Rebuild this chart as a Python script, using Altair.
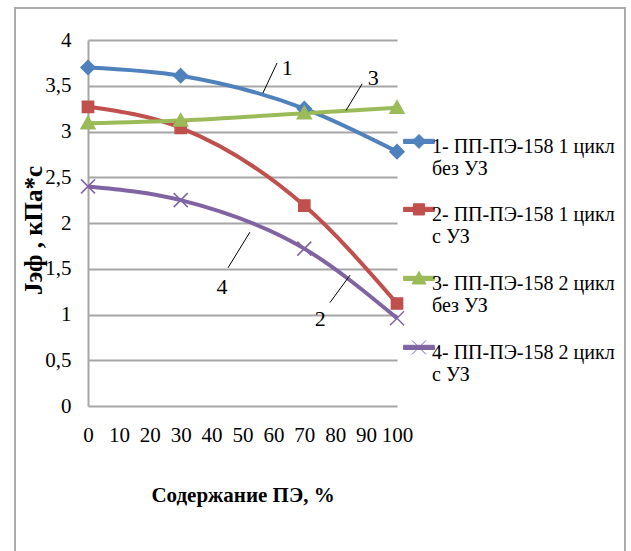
import altair as alt
import pandas as pd

# ---- data ----
pe_content = [0, 30, 70, 100]
series_names = [
    "1- ПП-ПЭ-158 1 цикл|без УЗ",
    "2- ПП-ПЭ-158 1 цикл|с УЗ",
    "3- ПП-ПЭ-158 2 цикл|без УЗ",
    "4- ПП-ПЭ-158 2 цикл|с УЗ",
]
s1 = [3.70, 3.61, 3.25, 2.78]
s2 = [3.27, 3.04, 2.19, 1.12]
s3 = [3.09, 3.12, 3.20, 3.26]
s4 = [2.40, 2.25, 1.72, 0.96]
colors = ["#4F81BD", "#C0504D", "#9BBB59", "#8064A2"]

x_ticks = [0, 10, 20, 30, 40, 50, 60, 70, 80, 90, 100]
y_ticks = [0, 0.5, 1, 1.5, 2, 2.5, 3, 3.5, 4]

# curve annotation labels and leader lines (data units)
ann_text = ["1", "3", "4", "2"]
ann_tx = [64.5, 92.3, 43.4, 75.2]
ann_ty = [3.69, 3.58, 1.30, 0.95]
lead_x1 = [56.6, 83.5, 45.3, 78.3]
lead_y1 = [3.42, 3.23, 1.51, 1.13]
lead_x2 = [61.2, 88.7, 52.4, 84.8]
lead_y2 = [3.75, 3.52, 1.90, 1.43]

# marker shapes (custom symbol paths)
marker_paths = [
    "M0,-1L1,0L0,1L-1,0Z",
    "M-0.8,-0.8H0.8V0.8H-0.8Z",
    "M0,-1L1,0.8H-1Z",
    "M-1,-1L1,1M-1,1L1,-1",
]
legend_paths = [
    "M-2.2,-1.1H2.2V-0.5H-2.2ZM0,-1.8L1,-0.8L0,0.2L-1,-0.8Z",
    "M-2.2,-1.1H2.2V-0.5H-2.2ZM-0.8,-1.6H0.8V0H-0.8Z",
    "M-2.2,-1.1H2.2V-0.5H-2.2ZM0,-1.8L1,0H-1Z",
    "M-2.2,-1.1H2.2V-0.5H-2.2ZM-1,-1.8L1,0.2M-1,0.2L1,-1.8",
]

rows = []
for name, vals in zip(series_names, [s1, s2, s3, s4]):
    for xv, yv in zip(pe_content, vals):
        rows.append({"series": name, "x": xv, "y": yv})
df = pd.DataFrame(rows)

ann_df = pd.DataFrame({"t": ann_text, "x": ann_tx, "y": ann_ty})
lead_df = pd.DataFrame({"x": lead_x1, "y": lead_y1, "x2": lead_x2, "y2": lead_y2})

FONT = "Liberation Serif"

x_enc = alt.X(
    "x:Q",
    scale=alt.Scale(domain=[0, 100], nice=False),
    axis=alt.Axis(
        values=x_ticks, grid=False, domain=False, ticks=False, tickSize=0,
        labelPadding=18, labelFontSize=21, labelFont=FONT, labelColor="#000",
        labelFontWeight=400, labelFontStyle="normal",
        labelOverlap=False, labelFlush=False, labelSeparation=0,
        title="Содержание ПЭ, %", titleFont=FONT, titleFontSize=21,
        titleFontWeight="bold", titleColor="#000", titleY=89, titleBaseline="middle",
    ),
)
y_enc = alt.Y(
    "y:Q",
    scale=alt.Scale(domain=[0, 4], nice=False),
    axis=alt.Axis(
        values=y_ticks, grid=True, gridColor="#A6A6A6", gridWidth=2,
        domain=True, domainColor="#A6A6A6", domainWidth=2,
        ticks=False, tickSize=0, labelPadding=17, labelOverlap=False,
        labelFontSize=21, labelFont=FONT, labelColor="#000",
        labelFontWeight=400, labelFontStyle="normal",
        labelExpr="replace(format(datum.value, '~g'), '.', ',')",
        title="Jэф , кПа*с", titleFont=FONT, titleFontSize=25,
        titleFontWeight="bold", titleColor="#000", titleAngle=270,
        titleX=-55, titleY=190, titleAlign="center", titleBaseline="middle",
    ),
)

dom = series_names
base = alt.Chart(df)

lines = base.mark_line(strokeWidth=4, interpolate="monotone").encode(
    x=x_enc, y=y_enc,
    stroke=alt.Stroke("series:N", scale=alt.Scale(domain=dom, range=colors), legend=None),
    detail="series:N",
)

points = base.mark_point(filled=True, size=196, strokeWidth=1.5, opacity=1).encode(
    x=x_enc, y=y_enc,
    fill=alt.Fill("series:N", scale=alt.Scale(domain=dom, range=colors), legend=None),
    stroke=alt.Stroke("series:N", scale=alt.Scale(domain=dom, range=colors), legend=None),
    shape=alt.Shape("series:N", scale=alt.Scale(domain=dom, range=marker_paths), legend=None),
)

legend_cfg = alt.Legend(
    title=None, orient="none", legendX=321, legendY=97,
    labelExpr="split(datum.label, '|')",
    labelFont=FONT, labelFontSize=20, labelColor="#000", labelLimit=300,
    labelFontWeight=400, labelFontStyle="normal",
    labelOffset=3, labelBaseline="middle", rowPadding=22, padding=0,
    symbolSize=196, symbolStrokeWidth=1,
)
legend_layer = base.transform_filter("datum.x < -1000").mark_point(
    filled=True, size=196, strokeWidth=1, opacity=1
).encode(
    x=x_enc, y=y_enc,
    fill=alt.Fill("series:N", scale=alt.Scale(domain=dom, range=colors), legend=legend_cfg),
    stroke=alt.Stroke("series:N", scale=alt.Scale(domain=dom, range=colors), legend=legend_cfg),
    shape=alt.Shape("series:N", scale=alt.Scale(domain=dom, range=legend_paths), legend=legend_cfg),
)

leaders = alt.Chart(lead_df).mark_rule(color="#000", strokeWidth=1).encode(
    x=x_enc, y=y_enc, x2="x2:Q", y2="y2:Q"
)
labels = alt.Chart(ann_df).mark_text(font=FONT, fontSize=22, color="#000").encode(
    x=x_enc, y=y_enc, text="t:N"
)

frame = alt.Chart(ann_df).mark_rect(fill=None, stroke="#AAAAAA", strokeWidth=2).encode(
    x=alt.value(-73), x2=alt.value(537), y=alt.value(-32), y2=alt.value(530)
)

chart = alt.layer(frame, lines, points, legend_layer, leaders, labels).resolve_scale(
    fill="independent", stroke="independent", shape="independent"
).resolve_legend(
    fill="independent", stroke="independent", shape="independent"
).properties(
    width=309, height=366, autosize="none",
    padding={"left": 88, "top": 40, "right": 234, "bottom": 145},
    background="white",
).configure(
    font=FONT,
    style={"guide-label": {"font": FONT}, "guide-title": {"font": FONT}},
).configure_axis(
    labelFont=FONT, titleFont=FONT, labelOverlap=False
).configure_legend(
    labelFont=FONT, titleFont=FONT
).configure_view(stroke=None)

chart.save("out.html", embed_options={"renderer": "svg", "actions": False})
